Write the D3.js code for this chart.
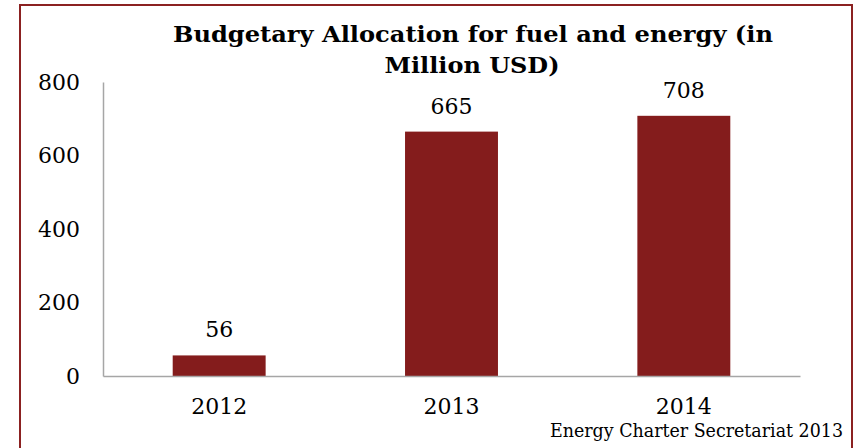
<!DOCTYPE html>
<html>
<head>
<meta charset="utf-8">
<script src="https://cdn.jsdelivr.net/npm/d3@7"></script>
<style>
  html, body { margin: 0; padding: 0; background: #fff; }
  svg { display: block; }
  text { font-family: "DejaVu Serif", "Liberation Serif", serif; fill: #000; }
</style>
</head>
<body>
<svg id="chart" width="859" height="448"></svg>
<script>
// Budget figures, million USD
const years = ["2012", "2013", "2014"];
const allocation = [56, 665, 708];
const yTicks = [0, 200, 400, 600, 800];
const titleLines = ["Budgetary Allocation for fuel and energy (in", "Million USD)"];
const sourceNote = "Energy Charter Secretariat 2013";

const svg = d3.select("#chart");
const W = 859, H = 448;

// outer frame
svg.append("rect")
  .attr("x", 20).attr("y", 5)
  .attr("width", 832).attr("height", 460)
  .attr("fill", "#fff")
  .attr("stroke", "#8b2121")
  .attr("stroke-width", 2);

const plot = { left: 103, right: 800, top: 82, bottom: 376 };

const x = d3.scaleBand()
  .domain(years)
  .range([plot.left, plot.right])
  .paddingInner(0.6)
  .paddingOuter(0.3);

const y = d3.scaleLinear()
  .domain([0, 800])
  .range([plot.bottom, plot.top]);

// bars
svg.append("g").selectAll("rect")
  .data(years)
  .join("rect")
  .attr("x", d => x(d))
  .attr("width", x.bandwidth())
  .attr("y", (d, i) => y(allocation[i]))
  .attr("height", (d, i) => y(0) - y(allocation[i]))
  .attr("fill", "#841c1c");

// value labels
svg.append("g").selectAll("text")
  .data(years)
  .join("text")
  .attr("x", d => x(d) + x.bandwidth() / 2)
  .attr("y", (d, i) => y(allocation[i]) - 18)
  .attr("text-anchor", "middle")
  .attr("font-size", 22)
  .text((d, i) => allocation[i]);

// y axis
const yAxis = svg.append("g")
  .attr("transform", `translate(${plot.left},0)`)
  .call(d3.axisLeft(y).tickValues(yTicks).tickSize(0).tickPadding(23));
yAxis.select(".domain").attr("stroke", "#a6a6a6").attr("stroke-width", 1.5);
yAxis.selectAll("text")
  .attr("font-size", 22)
  .attr("font-family", "DejaVu Serif, Liberation Serif, serif")
  .attr("fill", "#000");

// x axis
const xAxis = svg.append("g")
  .attr("transform", `translate(0,${plot.bottom})`)
  .call(d3.axisBottom(x).tickSize(0).tickPadding(22));
xAxis.select(".domain").attr("stroke", "#a6a6a6").attr("stroke-width", 1.5);
xAxis.selectAll("text")
  .attr("font-size", 22)
  .attr("font-family", "DejaVu Serif, Liberation Serif, serif")
  .attr("fill", "#000");

// title
svg.append("text")
  .attr("x", 473).attr("y", 42)
  .attr("text-anchor", "middle")
  .attr("font-size", 23)
  .attr("font-weight", "bold")
  .attr("textLength", 600)
  .attr("lengthAdjust", "spacingAndGlyphs")
  .text(titleLines[0]);
svg.append("text")
  .attr("x", 472).attr("y", 73)
  .attr("text-anchor", "middle")
  .attr("font-size", 23)
  .attr("font-weight", "bold")
  .attr("textLength", 175)
  .attr("lengthAdjust", "spacingAndGlyphs")
  .text(titleLines[1]);

// source note
svg.append("text")
  .attr("x", 843).attr("y", 437)
  .attr("text-anchor", "end")
  .attr("font-size", 18)
  .attr("textLength", 293)
  .attr("lengthAdjust", "spacingAndGlyphs")
  .text(sourceNote);
</script>
</body>
</html>
